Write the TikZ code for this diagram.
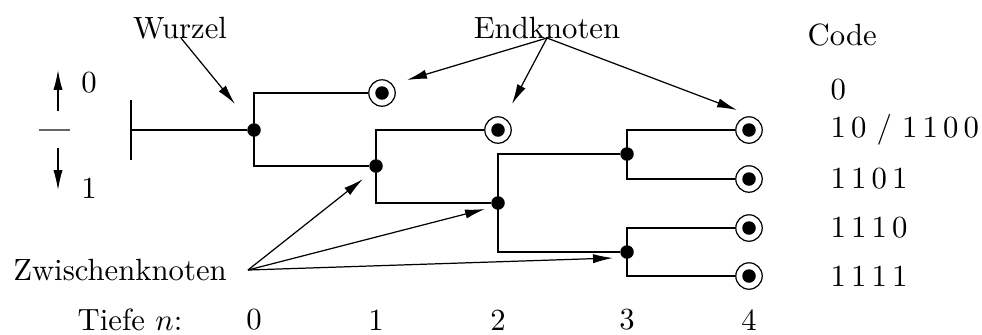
\documentclass[tikz,border=0pt]{standalone}
\usetikzlibrary{arrows.meta}
\begin{document}
\begin{tikzpicture}[x=0.01145cm,y=-0.01145cm,
  branch/.style={line width=0.9pt},
  arr/.style={line width=0.4pt,-{Latex[length=6.5pt,width=3pt]}},
  inner/.style={circle,fill=black,inner sep=0pt,minimum size=4.4pt},
  leaf/.style={circle,draw,line width=0.4pt,inner sep=0pt,minimum size=8.6pt,
    path picture={\fill[black] (path picture bounding box.center) circle (2.2pt);}},
  lbl/.style={inner sep=0pt},
  code/.style={inner sep=0pt,anchor=west}]
\useasboundingbox (0,0) rectangle (982,334);
% internal nodes
\node[inner] (root) at (254,130) {};
\node[inner] (n1) at (376,166) {};
\node[inner] (n2) at (498,203) {};
\node[inner] (n3a) at (627,154) {};
\node[inner] (n3b) at (627,252) {};
% leaves
\node[leaf] (l0) at (382,93) {};
\node[leaf] (l10) at (498,130) {};
\node[leaf] (l1100) at (749,130) {};
\node[leaf] (l1101) at (749,179) {};
\node[leaf] (l1110) at (749,228) {};
\node[leaf] (l1111) at (749,276) {};
% root bar
\coordinate (rt) at (131,100);
\coordinate (rb) at (131,160);
\coordinate (rm) at (131,130);
\draw[branch] (rt) -- (rb);
\draw[branch] (rm) -- (root);
% branches
\draw[branch] (root.center) |- (l0);
\draw[branch] (root.center) |- (n1);
\draw[branch] (n1.center) |- (l10);
\draw[branch] (n1.center) |- (n2);
\draw[branch] (n2.center) |- (n3a);
\draw[branch] (n2.center) |- (n3b);
\draw[branch] (n3a.center) |- (l1100);
\draw[branch] (n3a.center) |- (l1101);
\draw[branch] (n3b.center) |- (l1110);
\draw[branch] (n3b.center) |- (l1111);
% left legend
\coordinate (ua) at (58,111);
\coordinate (ub) at (58,70);
\coordinate (da) at (58,148);
\coordinate (db) at (58,190);
\coordinate (ha) at (39,130);
\coordinate (hb) at (70,130);
\draw[arr] (ua) -- (ub);
\draw[arr] (da) -- (db);
\draw[line width=0.4pt,black!60] (ha) -- (hb);
\node[lbl] (z0) at (89,83) {0};
\node[lbl] (z1) at (89,188) {1};
% labels
\node[lbl] (wurzel) at (180,28) {Wurzel};
\node[lbl] (endk) at (547,28) {Endknoten};
\node[lbl] (zwisch) at (120,270) {Zwischenknoten};
\node[lbl] (tiefe) at (130,320) {Tiefe $n$:};
\node[lbl] (d0) at (254,320) {0};
\node[lbl] (d1) at (376,320) {1};
\node[lbl] (d2) at (498,320) {2};
\node[lbl] (d3) at (627,320) {3};
\node[lbl] (d4) at (749,320) {4};
% code column
\node[code] (codeh) at (807,35) {Code};
\node[code] (c0) at (830,90) {0};
\node[code] (c1) at (830,130) {1\,0 / 1\,1\,0\,0};
\node[code] (c2) at (830,179) {1\,1\,0\,1};
\node[code] (c3) at (830,228) {1\,1\,1\,0};
\node[code] (c4) at (830,276) {1\,1\,1\,1};
% annotation arrows
\coordinate (ws) at (181,38);
\coordinate (wt) at (235,104);
\draw[arr] (ws) -- (wt);
\coordinate (es) at (547,38);
\coordinate (et1) at (407,80);
\coordinate (et2) at (512,104);
\coordinate (et3) at (737,110);
\draw[arr] (es) -- (et1);
\draw[arr] (es) -- (et2);
\draw[arr] (es) -- (et3);
\coordinate (zs) at (248,270);
\coordinate (zt1) at (363,179);
\coordinate (zt2) at (485,209);
\coordinate (zt3) at (613,258);
\draw[arr] (zs) -- (zt1);
\draw[arr] (zs) -- (zt2);
\draw[arr] (zs) -- (zt3);
\end{tikzpicture}
\end{document}
